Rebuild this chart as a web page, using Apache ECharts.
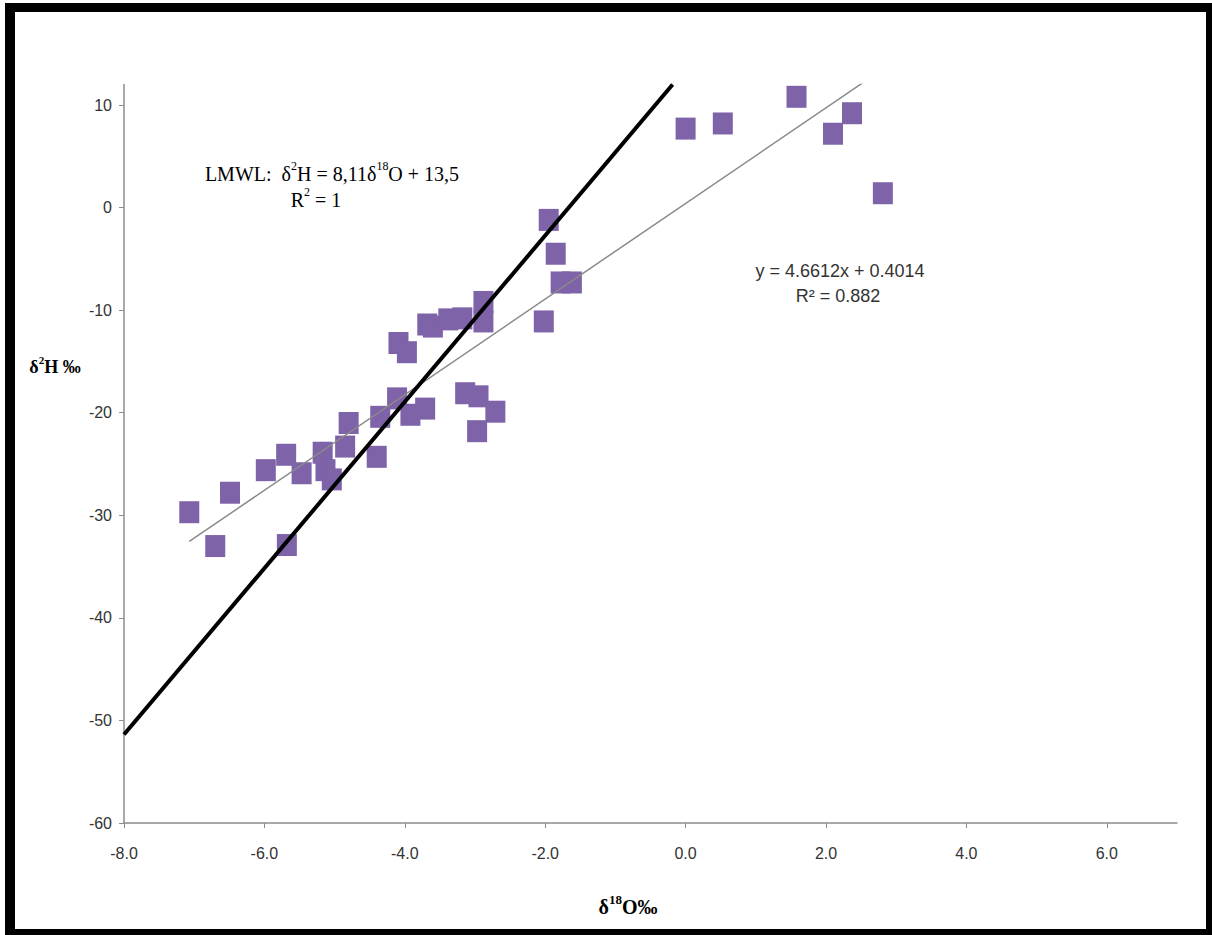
<!DOCTYPE html>
<html>
<head>
<meta charset="utf-8">
<script src="https://cdn.jsdelivr.net/npm/echarts@6/dist/echarts.min.js"></script>
<style>
html,body{margin:0;padding:0;background:#fff;}
#c{width:1212px;height:935px;}
</style>
</head>
<body>
<div id="c"></div>
<script>
// δ18O values (x) and δ2H values (y)
const d18O = [-7.07,-6.49,-6.70,-5.98,-5.69,-5.68,-5.47,-5.17,-5.13,-5.04,-4.85,-4.80,-4.40,-4.35,-4.11,-3.92,-3.71,-4.09,-3.97,-3.68,-3.60,-3.38,-3.18,-2.88,-2.88,-3.14,-2.95,-2.71,-2.97,-2.02,-1.95,-1.85,-1.78,-1.62,0.00,0.53,1.58,2.10,2.37,2.81];
const d2H  = [-29.7,-27.8,-33.0,-25.6,-24.1,-32.9,-25.9,-23.9,-25.6,-26.5,-23.3,-21.0,-24.3,-20.4,-18.6,-20.2,-19.6,-13.2,-14.1,-11.4,-11.6,-10.9,-10.8,-9.2,-11.1,-18.1,-18.4,-19.9,-21.8,-11.1,-1.2,-4.5,-7.3,-7.3,7.7,8.2,10.8,7.2,9.2,1.4];
// Line end points
const lmwlLine  = [[-8.0, -51.38], [-0.185, 12.0]];
const trendLine = [[-7.07, -32.55], [2.81, 13.5]];
const xTicks = {min: -8, max: 7, interval: 2};
const yTicks = {min: -60, max: 12, interval: 10};

const points = d18O.map((x, i) => [x, d2H[i]]);

const chart = echarts.init(document.getElementById('c'), null, {renderer: 'svg'});
const serif = '"Liberation Serif", "Times New Roman", serif';
const sans = '"Liberation Sans", Arial, sans-serif';

chart.setOption({
  backgroundColor: '#ffffff',
  animation: false,
  grid: {left: 124, right: 35, top: 84.5, bottom: 112, containLabel: false},
  xAxis: {
    type: 'value', min: xTicks.min, max: xTicks.max, interval: xTicks.interval,
    axisLine: {show: true, onZero: false, lineStyle: {color: '#8c8c8c', width: 1.5}},
    axisTick: {show: true, inside: false, length: 5, lineStyle: {color: '#8c8c8c'}},
    splitLine: {show: false},
    axisLabel: {showMaxLabel: false, margin: 22, color: '#333333', fontFamily: sans, fontSize: 16,
      formatter: v => v.toFixed(1)}
  },
  yAxis: {
    type: 'value', min: yTicks.min, max: yTicks.max, interval: yTicks.interval,
    axisLine: {show: true, onZero: false, lineStyle: {color: '#8c8c8c', width: 1.5}},
    axisTick: {show: true, inside: false, length: 5, lineStyle: {color: '#8c8c8c'}},
    splitLine: {show: false},
    axisLabel: {showMaxLabel: false, margin: 12, color: '#333333', fontFamily: sans, fontSize: 16}
  },
  series: [
    {
      type: 'line', data: trendLine, showSymbol: false, symbol: 'none', clip: true,
      lineStyle: {color: '#8a8a8a', width: 1.5}, z: 3
    },
    {
      type: 'scatter', data: points, symbol: 'rect', symbolSize: [20, 22],
      itemStyle: {color: '#7e63a8', opacity: 1}, z: 2
    },
    {
      type: 'line', data: lmwlLine, showSymbol: false, symbol: 'none', clip: true,
      lineStyle: {color: '#000000', width: 4}, z: 4
    }
  ],
  graphic: [
    {type: 'rect', shape: {x: 5, y: 3, width: 10, height: 932}, style: {fill: '#000'}},
    {type: 'rect', shape: {x: 5, y: 3, width: 1207, height: 9}, style: {fill: '#000'}},
    {type: 'rect', shape: {x: 1206, y: 3, width: 6, height: 932}, style: {fill: '#000'}},
    {type: 'rect', shape: {x: 5, y: 929, width: 1207, height: 6}, style: {fill: '#000'}},
    {type: 'text', style: {
      x: 332, y: 172, align: 'center', verticalAlign: 'middle',
      text: '{a|LMWL:  δ}{s|2}{a|H = 8,11δ}{s|18}{a|O + 13,5}',
      rich: {a: {fontFamily: serif, fontSize: 20, color: '#333', lineHeight: 24, verticalAlign: 'bottom'},
             s: {fontFamily: serif, fontSize: 12, color: '#333', lineHeight: 24, verticalAlign: 'top'}}
    }},
    {type: 'text', style: {
      x: 316, y: 198, align: 'center', verticalAlign: 'middle',
      text: '{a|R}{s|2}{a| = 1}',
      rich: {a: {fontFamily: serif, fontSize: 20, color: '#333', lineHeight: 24, verticalAlign: 'bottom'},
             s: {fontFamily: serif, fontSize: 12, color: '#333', lineHeight: 24, verticalAlign: 'top'}}
    }},
    {type: 'text', style: {
      x: 840, y: 271, align: 'center', verticalAlign: 'middle',
      text: 'y = 4.6612x + 0.4014', fontFamily: sans, fontSize: 18, fill: '#333'
    }},
    {type: 'text', style: {
      x: 838, y: 296, align: 'center', verticalAlign: 'middle',
      text: 'R² = 0.882', fontFamily: sans, fontSize: 18, fill: '#333'
    }},
    {type: 'text', style: {
      x: 55, y: 365, align: 'center', verticalAlign: 'middle',
      text: '{a|δ}{s|2}{a|H ‰}',
      rich: {a: {fontFamily: serif, fontSize: 18, fontWeight: 'bold', color: '#222', lineHeight: 22, verticalAlign: 'bottom'},
             s: {fontFamily: serif, fontSize: 11, fontWeight: 'bold', color: '#222', lineHeight: 22, verticalAlign: 'top'}}
    }},
    {type: 'text', style: {
      x: 628, y: 905, align: 'center', verticalAlign: 'middle',
      text: '{a|δ}{s|18}{a|O‰}',
      rich: {a: {fontFamily: serif, fontSize: 20, fontWeight: 'bold', color: '#222', lineHeight: 24, verticalAlign: 'bottom'},
             s: {fontFamily: serif, fontSize: 13, fontWeight: 'bold', color: '#222', lineHeight: 24, verticalAlign: 'top'}}
    }}
  ]
});
</script>
</body>
</html>
